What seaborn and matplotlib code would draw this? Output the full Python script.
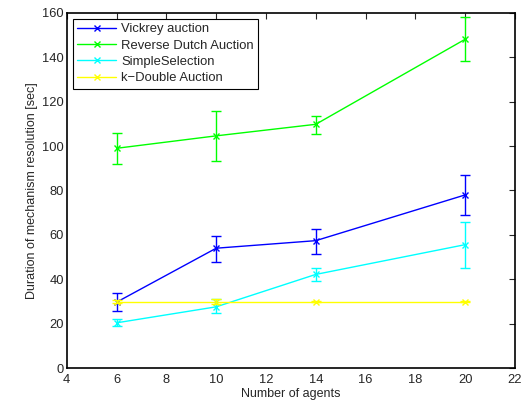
import matplotlib
matplotlib.use("Agg")
import matplotlib.pyplot as plt
import seaborn as sns
import numpy as np
import pandas as pd

agents = [6, 10, 14, 20]

vickrey = [29.7, 54.0, 57.4, 78.0]
vickrey_lo = [25.7, 47.8, 51.3, 69.0]
vickrey_hi = [33.7, 59.6, 62.8, 87.0]

dutch = [99.0, 104.6, 109.8, 148.1]
dutch_lo = [91.9, 93.2, 105.6, 138.2]
dutch_hi = [105.7, 116.0, 113.7, 158.0]

simple = [20.4, 27.6, 42.2, 55.6]
simple_lo = [19.0, 24.6, 39.2, 45.2]
simple_hi = [22.0, 31.0, 45.2, 65.9]

kdouble = [30.0, 30.0, 30.0, 30.0]
kdouble_lo = [29.5, 29.0, 29.6, 29.6]
kdouble_hi = [30.5, 31.0, 30.4, 30.4]

series_names = ["Vickrey auction", "Reverse Dutch Auction", "SimpleSelection", "k\u2212Double Auction"]
colors = ["#0000ff", "#00ff00", "#00ffff", "#ffff00"]

sns.set_style("white")
plt.rcParams["font.family"] = ["Liberation Sans", "DejaVu Sans"]
plt.rcParams["font.size"] = 9

frames = []
for name, mean, lo, hi in [
    (series_names[0], vickrey, vickrey_lo, vickrey_hi),
    (series_names[1], dutch, dutch_lo, dutch_hi),
    (series_names[2], simple, simple_lo, simple_hi),
    (series_names[3], kdouble, kdouble_lo, kdouble_hi),
]:
    frames.append(pd.DataFrame({"agents": agents, "duration": mean,
                                "lo": lo, "hi": hi, "mechanism": name}))
df = pd.concat(frames, ignore_index=True)

fig = plt.figure(figsize=(5.26, 4.01), dpi=100)
ax = fig.add_axes([0.127, 0.082, 0.852, 0.886])

palette = dict(zip(series_names, colors))
sns.lineplot(data=df, x="agents", y="duration", hue="mechanism",
             hue_order=series_names, palette=palette, marker="x",
             markersize=4, linewidth=1.0, ax=ax, legend=False)

# cross markers drawn in each series' own colour
for line in ax.get_lines():
    line.set_markeredgecolor(line.get_color())
    line.set_markeredgewidth(1.0)

for name in series_names:
    sub = df[df["mechanism"] == name]
    ax.errorbar(sub["agents"], sub["duration"],
                yerr=[sub["duration"] - sub["lo"], sub["hi"] - sub["duration"]],
                fmt="none", ecolor=palette[name], elinewidth=1.0,
                capsize=3.5, capthick=1.0)

ax.set_xlim(4, 22)
ax.set_ylim(0, 160)
ax.set_xticks(np.arange(4, 23, 2))
ax.set_yticks(np.arange(0, 161, 20))
ax.set_xlabel("Number of agents", labelpad=2)
ax.set_ylabel("Duration of mechanism resolution [sec]", labelpad=3)
ax.tick_params(direction="in", top=True, right=True, length=4, width=0.8,
               labelsize=9.3)
ax.tick_params(axis="x", pad=4)
ax.tick_params(axis="y", pad=2)
for s in ax.spines.values():
    s.set_visible(True)
    s.set_color("black")
    s.set_linewidth(1.2)

handles = [plt.Line2D([], [], color=c, marker="x", markersize=4,
                      markeredgewidth=1.0, linewidth=1.0) for c in colors]
leg = ax.legend(handles, series_names, loc="upper left", frameon=True,
                fancybox=False, edgecolor="black", framealpha=1, fontsize=9.4,
                borderaxespad=0.45, handlelength=3.0, borderpad=0.35,
                labelspacing=0.32, handletextpad=0.35)
leg.get_frame().set_linewidth(0.8)

fig.savefig("out.png", dpi=100)
